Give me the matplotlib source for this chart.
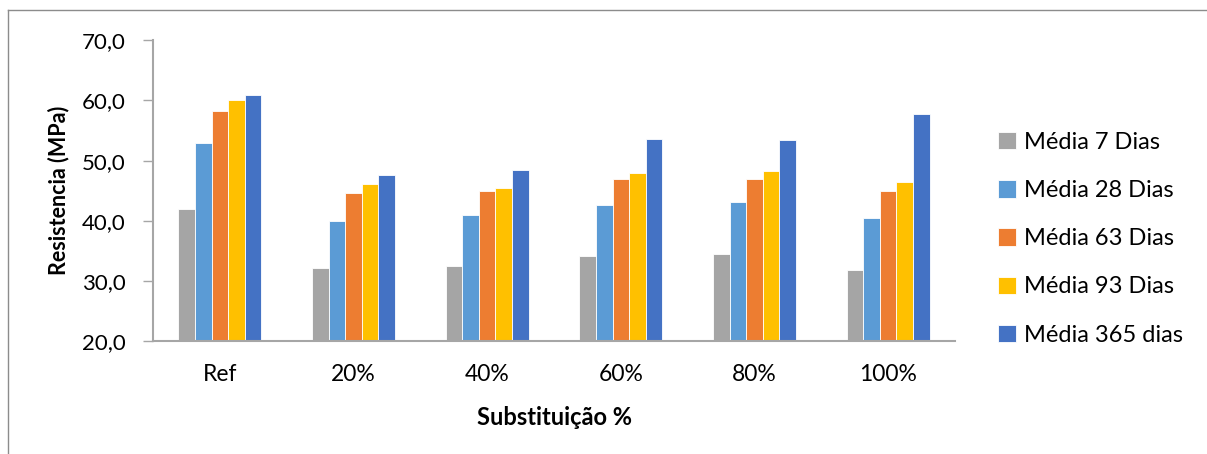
import matplotlib
matplotlib.use("Agg")
import matplotlib.pyplot as plt
from matplotlib.lines import Line2D
import numpy as np

plt.rcParams['font.family'] = ['Lato', 'DejaVu Sans']

categories = ["Ref", "20%", "40%", "60%", "80%", "100%"]
series_names = ["Média 7 Dias", "Média 28 Dias", "Média 63 Dias", "Média 93 Dias", "Média 365 dias"]
media_7 = [41.9, 32.2, 32.6, 34.1, 34.5, 31.9]
media_28 = [52.9, 40.0, 41.0, 42.7, 43.1, 40.4]
media_63 = [58.2, 44.7, 44.9, 47.0, 47.0, 44.9]
media_93 = [60.0, 46.1, 45.5, 47.9, 48.3, 46.4]
media_365 = [60.9, 47.6, 48.5, 53.6, 53.4, 57.7]
series_values = [media_7, media_28, media_63, media_93, media_365]
colors = ["#A5A5A5", "#5B9BD5", "#ED7D31", "#FFC000", "#4472C4"]

fig = plt.figure(figsize=(12.07, 4.54), dpi=100)
ax = fig.add_axes([0.1268, 0.2478, 0.6644, 0.6641])

x = np.arange(len(categories))
bar_w = 0.124
n = len(series_values)
for i, (vals, name, c) in enumerate(zip(series_values, series_names, colors)):
    offs = (i - (n - 1) / 2) * bar_w
    ax.bar(x + offs, np.array(vals) - 20, bottom=20, width=bar_w, color=c,
           edgecolor="#ffffff", linewidth=0.6, label=name, zorder=2)

ax.set_xlim(-0.5, len(categories) - 0.5)
ax.set_ylim(20, 70)
ax.set_yticks(np.arange(20, 71, 10))
ax.set_yticklabels([f"{v:.1f}".replace(".", ",") for v in np.arange(20, 71, 10)])
ax.set_xticks(x)
ax.set_xticklabels(categories)

for s in ("top", "right"):
    ax.spines[s].set_visible(False)
for s in ("left", "bottom"):
    ax.spines[s].set_color("#A6A6A6")
    ax.spines[s].set_linewidth(1.5)

ax.tick_params(axis="y", length=7, width=1, color="#A6A6A6", pad=13,
               labelsize=16, labelcolor="#000000")
ax.tick_params(axis="x", length=0, pad=16, labelsize=16.5, labelcolor="#000000")

ax.set_ylabel("Resistencia (MPa)", fontsize=15.5, fontweight="bold", labelpad=9)
ax.set_xlabel("Substituição %", fontsize=17, fontweight="bold", labelpad=15)

leg = ax.legend(loc="center left", bbox_to_anchor=(0.819, 0.474),
                bbox_transform=fig.transFigure, frameon=False, fontsize=17,
                handlelength=0.75, handleheight=0.75, handletextpad=0.35,
                labelspacing=1.15, borderaxespad=0)

# chart-area border
fig.add_artist(Line2D([8 / 1207, 1], [1 - 10 / 454, 1 - 10 / 454],
                      transform=fig.transFigure, color="#8C8C8C", linewidth=1))
fig.add_artist(Line2D([8 / 1207, 8 / 1207], [0, 1 - 10 / 454],
                      transform=fig.transFigure, color="#8C8C8C", linewidth=1))

fig.savefig("out.png", dpi=100)
